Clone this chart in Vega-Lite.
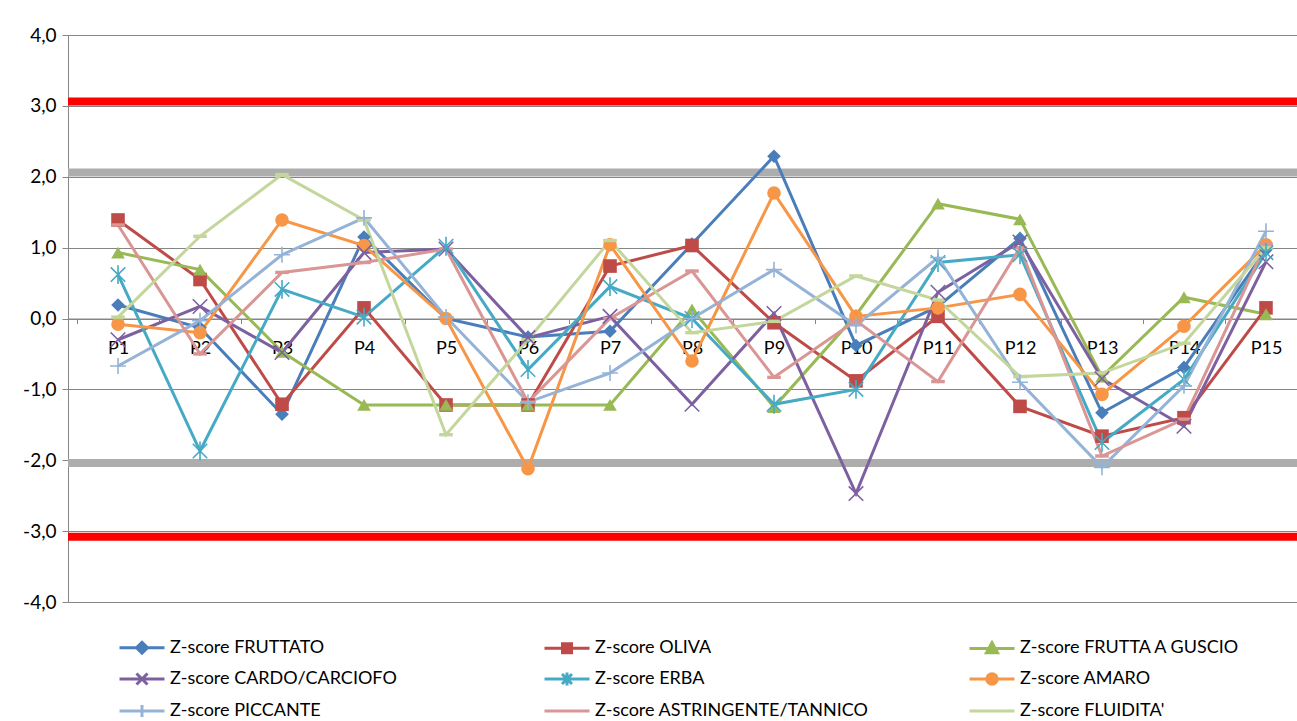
{
  "$schema": "https://vega.github.io/schema/vega-lite/v6.json",
  "width": 1229,
  "height": 567,
  "autosize": {"type": "none"},
  "padding": {"left": 68, "top": 35, "right": 0, "bottom": 119},
  "background": "white",
  "config": {
    "view": {"stroke": null},
    "axis": {"labelFont": "Lato", "labelFontSize": 18, "labelColor": "#000000"},
    "legend": {"labelFont": "Lato", "labelFontSize": 18, "labelColor": "#000000"}
  },
  "data": {"values": [
    {"p":"P1","s":"Z-score FRUTTATO","v":0.19},{"p":"P2","s":"Z-score FRUTTATO","v":-0.13},{"p":"P3","s":"Z-score FRUTTATO","v":-1.35},{"p":"P4","s":"Z-score FRUTTATO","v":1.15},{"p":"P5","s":"Z-score FRUTTATO","v":0.0},{"p":"P6","s":"Z-score FRUTTATO","v":-0.26},{"p":"P7","s":"Z-score FRUTTATO","v":-0.18},{"p":"P8","s":"Z-score FRUTTATO","v":1.05},{"p":"P9","s":"Z-score FRUTTATO","v":2.29},{"p":"P10","s":"Z-score FRUTTATO","v":-0.38},{"p":"P11","s":"Z-score FRUTTATO","v":0.17},{"p":"P12","s":"Z-score FRUTTATO","v":1.13},{"p":"P13","s":"Z-score FRUTTATO","v":-1.33},{"p":"P14","s":"Z-score FRUTTATO","v":-0.69},{"p":"P15","s":"Z-score FRUTTATO","v":0.97},
    {"p":"P1","s":"Z-score OLIVA","v":1.39},{"p":"P2","s":"Z-score OLIVA","v":0.55},{"p":"P3","s":"Z-score OLIVA","v":-1.21},{"p":"P4","s":"Z-score OLIVA","v":0.15},{"p":"P5","s":"Z-score OLIVA","v":-1.22},{"p":"P6","s":"Z-score OLIVA","v":-1.22},{"p":"P7","s":"Z-score OLIVA","v":0.74},{"p":"P8","s":"Z-score OLIVA","v":1.03},{"p":"P9","s":"Z-score OLIVA","v":-0.06},{"p":"P10","s":"Z-score OLIVA","v":-0.88},{"p":"P11","s":"Z-score OLIVA","v":0.03},{"p":"P12","s":"Z-score OLIVA","v":-1.24},{"p":"P13","s":"Z-score OLIVA","v":-1.66},{"p":"P14","s":"Z-score OLIVA","v":-1.4},{"p":"P15","s":"Z-score OLIVA","v":0.15},
    {"p":"P1","s":"Z-score FRUTTA A GUSCIO","v":0.93},{"p":"P2","s":"Z-score FRUTTA A GUSCIO","v":0.69},{"p":"P3","s":"Z-score FRUTTA A GUSCIO","v":-0.47},{"p":"P4","s":"Z-score FRUTTA A GUSCIO","v":-1.22},{"p":"P5","s":"Z-score FRUTTA A GUSCIO","v":-1.22},{"p":"P6","s":"Z-score FRUTTA A GUSCIO","v":-1.22},{"p":"P7","s":"Z-score FRUTTA A GUSCIO","v":-1.22},{"p":"P8","s":"Z-score FRUTTA A GUSCIO","v":0.13},{"p":"P9","s":"Z-score FRUTTA A GUSCIO","v":-1.25},{"p":"P10","s":"Z-score FRUTTA A GUSCIO","v":0.05},{"p":"P11","s":"Z-score FRUTTA A GUSCIO","v":1.62},{"p":"P12","s":"Z-score FRUTTA A GUSCIO","v":1.4},{"p":"P13","s":"Z-score FRUTTA A GUSCIO","v":-0.82},{"p":"P14","s":"Z-score FRUTTA A GUSCIO","v":0.3},{"p":"P15","s":"Z-score FRUTTA A GUSCIO","v":0.06},
    {"p":"P1","s":"Z-score CARDO/CARCIOFO","v":-0.3},{"p":"P2","s":"Z-score CARDO/CARCIOFO","v":0.17},{"p":"P3","s":"Z-score CARDO/CARCIOFO","v":-0.48},{"p":"P4","s":"Z-score CARDO/CARCIOFO","v":0.93},{"p":"P5","s":"Z-score CARDO/CARCIOFO","v":0.98},{"p":"P6","s":"Z-score CARDO/CARCIOFO","v":-0.27},{"p":"P7","s":"Z-score CARDO/CARCIOFO","v":0.03},{"p":"P8","s":"Z-score CARDO/CARCIOFO","v":-1.21},{"p":"P9","s":"Z-score CARDO/CARCIOFO","v":0.07},{"p":"P10","s":"Z-score CARDO/CARCIOFO","v":-2.47},{"p":"P11","s":"Z-score CARDO/CARCIOFO","v":0.37},{"p":"P12","s":"Z-score CARDO/CARCIOFO","v":1.08},{"p":"P13","s":"Z-score CARDO/CARCIOFO","v":-0.85},{"p":"P14","s":"Z-score CARDO/CARCIOFO","v":-1.52},{"p":"P15","s":"Z-score CARDO/CARCIOFO","v":0.8},
    {"p":"P1","s":"Z-score ERBA","v":0.62},{"p":"P2","s":"Z-score ERBA","v":-1.87},{"p":"P3","s":"Z-score ERBA","v":0.41},{"p":"P4","s":"Z-score ERBA","v":0.02},{"p":"P5","s":"Z-score ERBA","v":1.02},{"p":"P6","s":"Z-score ERBA","v":-0.72},{"p":"P7","s":"Z-score ERBA","v":0.45},{"p":"P8","s":"Z-score ERBA","v":0.0},{"p":"P9","s":"Z-score ERBA","v":-1.21},{"p":"P10","s":"Z-score ERBA","v":-1.0},{"p":"P11","s":"Z-score ERBA","v":0.79},{"p":"P12","s":"Z-score ERBA","v":0.9},{"p":"P13","s":"Z-score ERBA","v":-1.75},{"p":"P14","s":"Z-score ERBA","v":-0.86},{"p":"P15","s":"Z-score ERBA","v":0.93},
    {"p":"P1","s":"Z-score AMARO","v":-0.08},{"p":"P2","s":"Z-score AMARO","v":-0.2},{"p":"P3","s":"Z-score AMARO","v":1.39},{"p":"P4","s":"Z-score AMARO","v":1.03},{"p":"P5","s":"Z-score AMARO","v":0.0},{"p":"P6","s":"Z-score AMARO","v":-2.12},{"p":"P7","s":"Z-score AMARO","v":1.04},{"p":"P8","s":"Z-score AMARO","v":-0.6},{"p":"P9","s":"Z-score AMARO","v":1.77},{"p":"P10","s":"Z-score AMARO","v":0.03},{"p":"P11","s":"Z-score AMARO","v":0.15},{"p":"P12","s":"Z-score AMARO","v":0.34},{"p":"P13","s":"Z-score AMARO","v":-1.07},{"p":"P14","s":"Z-score AMARO","v":-0.11},{"p":"P15","s":"Z-score AMARO","v":1.04},
    {"p":"P1","s":"Z-score PICCANTE","v":-0.67},{"p":"P2","s":"Z-score PICCANTE","v":-0.03},{"p":"P3","s":"Z-score PICCANTE","v":0.9},{"p":"P4","s":"Z-score PICCANTE","v":1.42},{"p":"P5","s":"Z-score PICCANTE","v":0.02},{"p":"P6","s":"Z-score PICCANTE","v":-1.18},{"p":"P7","s":"Z-score PICCANTE","v":-0.77},{"p":"P8","s":"Z-score PICCANTE","v":0.0},{"p":"P9","s":"Z-score PICCANTE","v":0.69},{"p":"P10","s":"Z-score PICCANTE","v":-0.1},{"p":"P11","s":"Z-score PICCANTE","v":0.86},{"p":"P12","s":"Z-score PICCANTE","v":-0.9},{"p":"P13","s":"Z-score PICCANTE","v":-2.1},{"p":"P14","s":"Z-score PICCANTE","v":-0.95},{"p":"P15","s":"Z-score PICCANTE","v":1.23},
    {"p":"P1","s":"Z-score ASTRINGENTE/TANNICO","v":1.32},{"p":"P2","s":"Z-score ASTRINGENTE/TANNICO","v":-0.5},{"p":"P3","s":"Z-score ASTRINGENTE/TANNICO","v":0.65},{"p":"P4","s":"Z-score ASTRINGENTE/TANNICO","v":0.79},{"p":"P5","s":"Z-score ASTRINGENTE/TANNICO","v":0.98},{"p":"P6","s":"Z-score ASTRINGENTE/TANNICO","v":-1.18},{"p":"P7","s":"Z-score ASTRINGENTE/TANNICO","v":0.0},{"p":"P8","s":"Z-score ASTRINGENTE/TANNICO","v":0.67},{"p":"P9","s":"Z-score ASTRINGENTE/TANNICO","v":-0.83},{"p":"P10","s":"Z-score ASTRINGENTE/TANNICO","v":-0.03},{"p":"P11","s":"Z-score ASTRINGENTE/TANNICO","v":-0.89},{"p":"P12","s":"Z-score ASTRINGENTE/TANNICO","v":1.0},{"p":"P13","s":"Z-score ASTRINGENTE/TANNICO","v":-1.94},{"p":"P14","s":"Z-score ASTRINGENTE/TANNICO","v":-1.42},{"p":"P15","s":"Z-score ASTRINGENTE/TANNICO","v":1.05},
    {"p":"P1","s":"Z-score FLUIDITA'","v":0.02},{"p":"P2","s":"Z-score FLUIDITA'","v":1.16},{"p":"P3","s":"Z-score FLUIDITA'","v":2.03},{"p":"P4","s":"Z-score FLUIDITA'","v":1.39},{"p":"P5","s":"Z-score FLUIDITA'","v":-1.64},{"p":"P6","s":"Z-score FLUIDITA'","v":-0.3},{"p":"P7","s":"Z-score FLUIDITA'","v":1.1},{"p":"P8","s":"Z-score FLUIDITA'","v":-0.2},{"p":"P9","s":"Z-score FLUIDITA'","v":-0.04},{"p":"P10","s":"Z-score FLUIDITA'","v":0.6},{"p":"P11","s":"Z-score FLUIDITA'","v":0.26},{"p":"P12","s":"Z-score FLUIDITA'","v":-0.82},{"p":"P13","s":"Z-score FLUIDITA'","v":-0.77},{"p":"P14","s":"Z-score FLUIDITA'","v":-0.35},{"p":"P15","s":"Z-score FLUIDITA'","v":1.0}
  ]},
  "resolve": {"scale": {"shape": "independent"}},
  "layer": [
    {
      "data": {"values": [{"t": 2.06}, {"t": -2.04}]},
      "mark": {"type": "rule", "color": "#ADADAD", "strokeWidth": 8},
      "encoding": {"y": {"field": "t", "type": "quantitative", "title": null, "scale": {"domain": [-4, 4], "nice": false, "zero": false}}}
    },
    {
      "data": {"values": [{"t": 3.06}, {"t": -3.08}]},
      "mark": {"type": "rule", "color": "#FF0000", "strokeWidth": 8},
      "encoding": {"y": {"field": "t", "type": "quantitative", "title": null, "scale": {"domain": [-4, 4], "nice": false, "zero": false}}}
    },
    {
      "mark": {"type": "line", "strokeWidth": 3},
      "encoding": {
        "x": {"field": "p", "type": "nominal", "title": null,
          "scale": {"type": "band", "domain": ["P1","P2","P3","P4","P5","P6","P7","P8","P9","P10","P11","P12","P13","P14","P15"], "range": [0, 1248], "paddingInner": 0, "paddingOuter": 0.11},
          "axis": {"orient": "bottom", "offset": -283.5, "grid": false, "domain": true, "domainColor": "#868686", "domainWidth": 1, "ticks": true, "tickBand": "extent", "tickSize": 5, "tickColor": "#868686", "labelPadding": 16, "labelAngle": 0}},
        "y": {"field": "v", "type": "quantitative", "title": null,
          "scale": {"domain": [-4, 4], "nice": false, "zero": false},
          "axis": {"values": [-4,-3,-2,-1,0,1,2,3,4], "grid": true, "gridColor": "#868686", "gridWidth": 1, "domainColor": "#868686", "tickColor": "#868686", "tickSize": 6, "labelPadding": 6, "labelFontSize": 19,
            "labelExpr": "replace(replace(format(datum.value, '.1f'), '.', ','), '\u2212', '-')"}},
        "color": {"field": "s", "type": "nominal",
          "scale": {"domain": ["Z-score FRUTTATO","Z-score OLIVA","Z-score FRUTTA A GUSCIO","Z-score CARDO/CARCIOFO","Z-score ERBA","Z-score AMARO","Z-score PICCANTE","Z-score ASTRINGENTE/TANNICO","Z-score FLUIDITA'"],
            "range": ["#4A7EBB","#BE4B48","#98B954","#7D60A0","#46AAC5","#F79646","#95B3D7","#D99694","#C3D69B"]},
          "legend": {"title": null, "orient": "none", "legendX": 65, "legendY": 603, "direction": "horizontal", "columns": 3, "gridAlign": "all", "columnPadding": 94, "rowPadding": 6, "symbolSize": 100, "labelOffset": 19, "labelLimit": 400,
            "encode": {"symbols": {"update": {
              "shape": {"signal": "{'Z-score FRUTTATO': 'M-4.5,0L4.5,0M0,-1.1L1.1,0L0,1.1L-1.1,0Z', 'Z-score OLIVA': 'M-4.5,0L4.5,0M-0.9,-0.9L0.9,-0.9L0.9,0.9L-0.9,0.9Z', 'Z-score FRUTTA A GUSCIO': 'M-4.5,0L4.5,0M0,-1.15L1.1,0.85L-1.1,0.85Z', 'Z-score CARDO/CARCIOFO': 'M-4.5,0L4.5,0M-1.1,-1.1L1.1,1.1M-1.1,1.1L1.1,-1.1', 'Z-score ERBA': 'M-4.5,0L4.5,0M-1,-1L1,1M-1,1L1,-1M0,-1.3L0,1.3', 'Z-score AMARO': 'M-4.5,0L4.5,0M1.05,0A1.05,1.05,0,1,1,-1.05,0A1.05,1.05,0,1,1,1.05,0Z', 'Z-score PICCANTE': 'M-4.5,0L4.5,0M0,-1.2L0,1.2', 'Z-score ASTRINGENTE/TANNICO': 'M-4.5,0L4.5,0', \"Z-score FLUIDITA'\": 'M-4.5,0L4.5,0'}[datum.value]"},
              "fill": {"scale": "color", "field": "value"},
              "stroke": {"scale": "color", "field": "value"},
              "strokeWidth": {"value": 3},
              "opacity": {"value": 1}
            }}}}}
      }
    },
    {
      "transform": [{"filter": "indexof(['Z-score CARDO/CARCIOFO','Z-score ERBA','Z-score PICCANTE'], datum.s) < 0"}],
      "mark": {"type": "point", "filled": true, "opacity": 1, "size": 185},
      "encoding": {
        "x": {"field": "p", "type": "nominal", "title": null},
        "y": {"field": "v", "type": "quantitative", "title": null},
        "color": {"field": "s", "type": "nominal", "legend": null},
        "shape": {"field": "s", "type": "nominal", "legend": null,
          "scale": {"domain": ["Z-score FRUTTATO","Z-score OLIVA","Z-score FRUTTA A GUSCIO","Z-score AMARO","Z-score ASTRINGENTE/TANNICO","Z-score FLUIDITA'"],
            "range": ["diamond","square","triangle-up","circle","M-1,-0.25L1,-0.25L1,0.25L-1,0.25Z","M-1,-0.25L1,-0.25L1,0.25L-1,0.25Z"]}}
      }
    },
    {
      "transform": [{"filter": "indexof(['Z-score CARDO/CARCIOFO','Z-score ERBA','Z-score PICCANTE'], datum.s) >= 0"}],
      "mark": {"type": "point", "filled": false, "opacity": 1, "size": 210, "strokeWidth": 1.6},
      "encoding": {
        "x": {"field": "p", "type": "nominal", "title": null},
        "y": {"field": "v", "type": "quantitative", "title": null},
        "color": {"field": "s", "type": "nominal", "legend": null},
        "shape": {"field": "s", "type": "nominal", "legend": null,
          "scale": {"domain": ["Z-score CARDO/CARCIOFO","Z-score ERBA","Z-score PICCANTE"],
            "range": ["M-1,-1L1,1M-1,1L1,-1","M-1,-1L1,1M-1,1L1,-1M0,-1.3L0,1.3","M-1.1,0L1.1,0M0,-1.1L0,1.1"]}}
      }
    }
  ]
}
